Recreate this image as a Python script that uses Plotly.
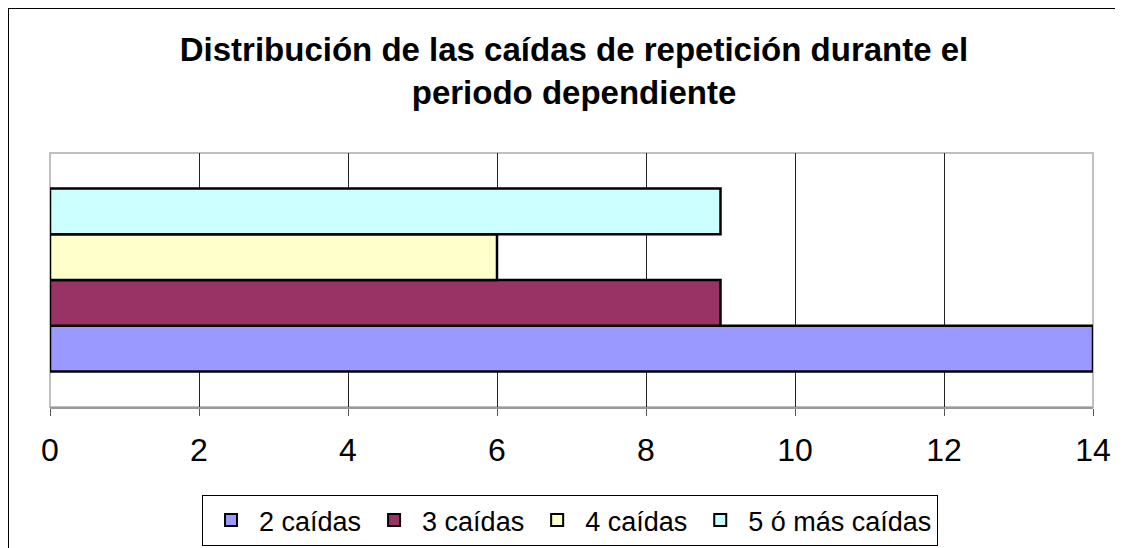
import plotly.graph_objects as go

# page body adds an 8px margin: figure coords = screen coords - 8
W, H = 1115, 540
series = ["2 caídas", "3 caídas", "4 caídas", "5 ó más caídas"]
values = [14, 9, 6, 9]
colors = ["#9999FF", "#993366", "#FFFFCC", "#CCFFFF"]
category = ["Periodo dependiente"]
x_ticks = [0, 2, 4, 6, 8, 10, 12, 14]

fig = go.Figure()
for name, v, c in zip(series, values, colors):
    fig.add_trace(go.Bar(
        y=category, x=[v], name=name, orientation="h",
        marker=dict(color=c, line=dict(color="#000000", width=2.5)),
    ))

L, R, T, B = 42, 1085, 145, 399
PW, PH = R - L, B - T
FONT = "Liberation Sans, Arial"
fig.update_layout(
    width=W, height=H,
    margin=dict(l=L, r=W - R, t=T, b=H - B, pad=0, autoexpand=False),
    paper_bgcolor="white", plot_bgcolor="white",
    barmode="group", bargap=0.28, bargroupgap=0,
    font=dict(family=FONT, color="#000000"),
    title=dict(
        text="<b>Distribución de las caídas de repetición durante el<br>periodo dependiente</b>",
        x=566 / W, xanchor="center", y=1 - 53 / H, yanchor="top",
        font=dict(size=33, family=FONT, color="#000000"),
    ),
    showlegend=True,
    legend=dict(
        orientation="h", x=(570 - 8 - L) / PW, xanchor="center", y=-(487 - B) / PH, yanchor="top",
        bordercolor="#000000", borderwidth=1, bgcolor="white",
        font=dict(size=27, family=FONT, color="#000000"),
        traceorder="normal", itemsizing="constant",
        itemwidth=46, tracegroupgap=0,
    ),
    xaxis=dict(
        range=[0, 14], tickvals=x_ticks, ticktext=[str(t) for t in x_ticks],
        showgrid=True, gridcolor="#222222", gridwidth=1,
        ticks="outside", ticklen=7, tickcolor="#555555", tickwidth=1,
        showline=True, linecolor="#999999", linewidth=2,
        tickfont=dict(size=32, family=FONT, color="#000000"),
        ticklabelstandoff=7,
        zeroline=False, fixedrange=True,
    ),
    yaxis=dict(showticklabels=False, showgrid=False, zeroline=False, showline=False, ticks=""),
    shapes=[
        dict(type="rect", xref="paper", yref="paper", x0=0, x1=1, y0=0, y1=1,
             line=dict(color="#C0C0C0", width=2), layer="below"),
        dict(type="line", xref="paper", yref="paper",
             x0=-L / PW, x1=(W - L) / PW,
             y0=1 + T / PH, y1=1 + T / PH,
             line=dict(color="#000000", width=2)),
        dict(type="line", xref="paper", yref="paper",
             x0=-(L - 0.5) / PW, x1=-(L - 0.5) / PW,
             y0=1 + T / PH, y1=-(H - B) / PH,
             line=dict(color="#000000", width=1)),
    ],
)

fig.write_html("out.html")
